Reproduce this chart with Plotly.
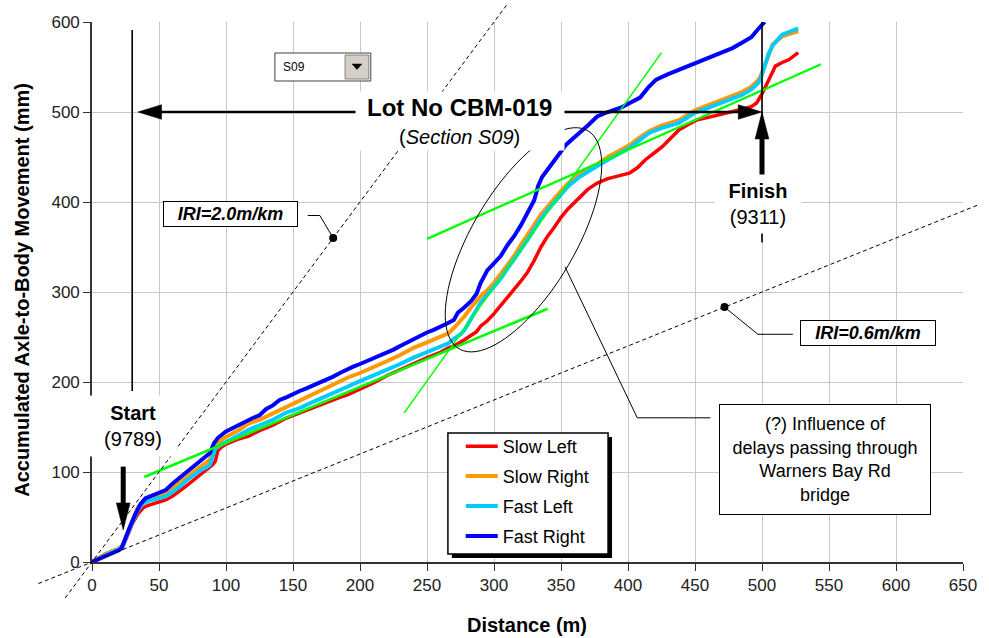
import numpy as np
import plotly.graph_objects as go

# ---------------- data ----------------
series_names = ["Slow Left", "Slow Right", "Fast Left", "Fast Right"]
series_colors = ["#ff0000", "#ff9900", "#00ccff", "#0000ff"]
series_widths = [3.5, 4, 4, 4]

slow_left = [(0,0),(5,4),(10,7),(15,10),(20,13),(23,17),(26,28),(30,42),(34,53),(38,60),(42,63),(50,67),(55,69),(60,73),(65,78),(70,84),(75,90),(80,96),(85,102),(90,108),(92,112),(94,124),(97,128),(100,131),(110,137),(117,140),(125,146),(135,152),(145,160),(155,166),(165,172),(175,178),(185,183),(191,186),(200,192),(210,199),(220,207),(230,214),(241,221),(250,227),(260,233),(266,238),(270,240),(275,244),(278,247),(283,252),(287,256),(290,262),(295,268),(300,276),(305,285),(310,293),(315,302),(320,312),(325,322),(330,335),(335,350),(340,362),(345,372),(350,383),(355,392),(364,406),(370,414),(377,421),(385,426),(393,429),(401,432),(407,438),(413,447),(420,455),(426,462),(432,471),(438,480),(445,486),(451,491),(460,494),(475,499),(485,503),(492,506),(496,510),(500,520),(505,536),(510,551),(515,555),(520,558),(527,566)]

slow_right = [(0,0),(5,5),(10,9),(15,12),(20,15),(23,19),(26,31),(30,47),(34,60),(38,67),(42,70),(50,74),(55,76),(60,82),(65,88),(70,94),(75,99),(80,105),(85,110),(88,114),(90,122),(93,131),(97,136),(100,139),(110,147),(117,154),(125,158),(135,165),(145,173),(155,180),(165,187),(175,194),(185,200),(191,205),(200,210),(210,216),(220,223),(230,230),(240,238),(250,244),(260,250),(266,254),(270,260),(275,268),(278,273),(283,283),(287,290),(290,295),(295,302),(300,310),(305,320),(310,330),(315,340),(320,352),(325,364),(330,375),(335,386),(340,395),(345,404),(350,412),(355,420),(364,432),(370,437),(377,442),(385,450),(393,456),(401,463),(408,471),(416,479),(425,485),(438,491),(450,502),(462,509),(475,517),(485,522),(492,528),(497,535),(499,540),(502,552),(505,566),(508,575),(515,584),(522,587),(527,590)]

fast_left = [(0,0),(5,4),(10,8),(15,11),(20,14),(23,18),(26,30),(30,45),(34,57),(38,65),(42,68),(50,71),(55,73),(60,78),(65,83),(70,90),(75,96),(80,101),(85,105),(88,108),(90,117),(92,126),(96,130),(100,133),(110,141),(117,147),(125,152),(135,158),(145,166),(155,171),(165,178),(175,185),(185,191),(191,195),(200,201),(210,207),(220,214),(230,220),(240,227),(250,233),(260,239),(266,243),(270,248),(275,253),(278,258),(283,270),(287,280),(290,288),(295,297),(300,306),(305,315),(310,326),(315,336),(320,347),(325,358),(330,370),(335,381),(340,391),(345,400),(350,409),(355,417),(364,428),(370,434),(377,440),(385,447),(393,453),(401,460),(408,468),(416,477),(425,482),(438,488),(450,499),(462,506),(475,514),(485,519),(492,525),(497,532),(499,537),(502,551),(505,565),(508,574),(515,586),(522,590),(527,593)]

fast_right = [(0,0),(5,3),(10,6),(15,9),(20,13),(22,15),(25,28),(28,38),(32,52),(36,64),(40,71),(45,74),(50,77),(55,80),(60,87),(65,93),(70,99),(75,104),(80,110),(85,116),(88,121),(91,132),(94,138),(100,145),(105,149),(110,153),(115,157),(120,160),(125,163),(130,170),(135,174),(140,180),(145,183),(150,187),(155,190),(160,193),(165,196),(170,199),(175,203),(180,206),(185,210),(190,214),(195,217),(200,220),(205,223),(210,226),(215,230),(220,233),(225,236),(230,240),(235,244),(240,247),(245,251),(250,255),(255,258),(260,261),(265,265),(270,269),(273,277),(278,283),(283,290),(287,298),(290,310),(295,324),(300,332),(305,340),(310,352),(315,362),(320,374),(325,388),(330,402),(333,418),(336,428),(342,440),(349,454),(354,464),(360,472),(364,477),(370,485),(377,495),(385,500),(395,505),(402,510),(409,516),(415,527),(421,536),(430,542),(438,547),(450,554),(460,560),(470,566),(478,571),(485,577),(492,583),(497,592),(502,600)]

series_points = [slow_left, slow_right, fast_left, fast_right]

# green trend segments (start / end)
trend_x = [[39, 340], [233, 425], [250, 544]]
trend_y = [[94.5, 281.4], [165.7, 566], [359, 553]]
trend_widths = [2.6, 1.5, 2.3]

# IRI reference lines (mm per m)
iri_values = [2.0, 0.6]
iri_labels = ["IRI=2.0m/km", "IRI=0.6m/km"]
iri_x_extent = [(-20, 310), (-40, 662)]
iri_marker_x = [180, 472]

x_ticks = list(range(0, 651, 50))
y_ticks = list(range(0, 601, 100))
X_RANGE = [0, 650]
Y_RANGE = [0, 600]

section_start_x = 30      # Start (9789)
section_finish_x = 500    # Finish (9311)
lot_line_y = 500

# ---------------- layout geometry ----------------
W, H = 989, 638
PL, PR, PT, PB = 92, 16, 22, 76
PW = W - PL - PR
PH = H - PT - PB
SX = PW / (X_RANGE[1] - X_RANGE[0])   # px per metre
SY = PH / (Y_RANGE[1] - Y_RANGE[0])   # px per mm


def fx(px):
    return (px - PL) / PW


def fy(py):
    return (PT + PH - py) / PH


FONT = "Arial, Liberation Sans, sans-serif"

fig = go.Figure()

for name, pts, col, w in zip(series_names, series_points, series_colors, series_widths):
    fig.add_trace(go.Scatter(
        x=[p[0] for p in pts], y=[p[1] for p in pts], mode="lines", name=name,
        legendgroup=name, line=dict(color=col, width=w)))

for tx, ty, tw in zip(trend_x, trend_y, trend_widths):
    fig.add_trace(go.Scatter(x=tx, y=ty, mode="lines", showlegend=False,
                             line=dict(color="#00ff00", width=tw), hoverinfo="skip"))

fig.add_trace(go.Scatter(
    x=iri_marker_x, y=[v * x for v, x in zip(iri_values, iri_marker_x)], mode="markers",
    showlegend=False, marker=dict(color="black", size=8), hoverinfo="skip"))

shapes = []
# IRI dashed lines (extend past the axes, so use domain refs -> not clipped)
for v, (xa, xb) in zip(iri_values, iri_x_extent):
    shapes.append(dict(type="line", xref="x domain", yref="y domain",
                       x0=(xa - X_RANGE[0]) / (X_RANGE[1] - X_RANGE[0]),
                       y0=(v * xa - Y_RANGE[0]) / (Y_RANGE[1] - Y_RANGE[0]),
                       x1=(xb - X_RANGE[0]) / (X_RANGE[1] - X_RANGE[0]),
                       y1=(v * xb - Y_RANGE[0]) / (Y_RANGE[1] - Y_RANGE[0]),
                       line=dict(color="black", width=1, dash="4px,3px"), layer="above"))


def seg(x0, y0, x1, y1, w=1.0):
    return dict(type="line", xref="x", yref="y", x0=x0, y0=y0, x1=x1, y1=y1,
                line=dict(color="black", width=w), layer="above")


def poly(pts, xref="x", yref="y", fill=None, w=1.0, close=False, lc="black"):
    d = "M " + " L ".join(f"{a},{b}" for a, b in pts) + (" Z" if close else "")
    return dict(type="path", xref=xref, yref=yref, path=d,
                fillcolor=fill if fill else "rgba(0,0,0,0)",
                line=dict(color=lc, width=w), layer="above")


# Section limits & lot arrow
shapes.append(seg(section_start_x, 190, section_start_x, 591, 1.6))
shapes.append(seg(section_finish_x, 355, section_finish_x, 600, 1.6))
head_len_h, head_half_h = 24 / SX, 7.3 / SY
left_tip = section_start_x + 4.2
shapes.append(seg(left_tip + head_len_h - 1, lot_line_y, section_finish_x - head_len_h + 1, lot_line_y, 2.6))
shapes.append(poly([(left_tip, lot_line_y), (left_tip + head_len_h, lot_line_y + head_half_h),
                    (left_tip + head_len_h, lot_line_y - head_half_h)], fill="black", w=0.5, close=True))
shapes.append(poly([(section_finish_x, lot_line_y), (section_finish_x - head_len_h, lot_line_y + head_half_h),
                    (section_finish_x - head_len_h, lot_line_y - head_half_h)], fill="black", w=0.5, close=True))

# vertical arrows (Start / Finish)
head_len_v, head_half_v = 27 / SY, 7 / SX
start_tip = (23.3, 35.6)
shapes.append(seg(start_tip[0], start_tip[1] + head_len_v - 1, start_tip[0], 106, 5))
shapes.append(poly([start_tip, (start_tip[0] - head_half_v, start_tip[1] + head_len_v),
                    (start_tip[0] + head_half_v, start_tip[1] + head_len_v)], fill="black", w=0.5, close=True))
finish_tip = (section_finish_x, lot_line_y)
shapes.append(seg(finish_tip[0], finish_tip[1] - head_len_v + 1, finish_tip[0], 430, 5))
shapes.append(poly([finish_tip, (finish_tip[0] - head_half_v, finish_tip[1] - head_len_v),
                    (finish_tip[0] + head_half_v, finish_tip[1] - head_len_v)], fill="black", w=0.5, close=True))

# ellipse around the bridge zone
ell_c = (322, 358)
ell_a, ell_b, ell_ang = 127, 52, np.deg2rad(59)
t = np.linspace(0, 2 * np.pi, 90)
ex = ell_c[0] + (ell_a * np.cos(t) * np.cos(ell_ang) - ell_b * np.sin(t) * np.sin(ell_ang)) / SX
ey = ell_c[1] + (ell_a * np.cos(t) * np.sin(ell_ang) + ell_b * np.sin(t) * np.cos(ell_ang)) / SY
shapes.append(poly(list(zip(np.round(ex, 2), np.round(ey, 2))), w=1, close=True))

# leader lines
shapes.append(poly([(353, 328), (406.9, 160.2), (461.5, 160.2)], w=1))
shapes.append(poly([(161, 385), (170, 385), (iri_marker_x[0], iri_values[0] * iri_marker_x[0])], w=1))
shapes.append(poly([(iri_marker_x[1], iri_values[1] * iri_marker_x[1]), (497, 253), (523, 253)], w=1))

# legend frame with drop shadow (legend itself is drawn on top, transparent)
shapes.append(dict(type="rect", xref="paper", yref="paper", x0=fx(456), x1=fx(618),
                   y0=fy(558), y1=fy(437), fillcolor="black", line=dict(width=0), layer="above"))
shapes.append(dict(type="rect", xref="paper", yref="paper", x0=fx(452), x1=fx(614),
                   y0=fy(554), y1=fy(433), fillcolor="white", line=dict(color="black", width=1.5),
                   layer="above"))

# section drop-down widget
shapes.append(dict(type="rect", xref="paper", yref="paper", x0=fx(277), x1=fx(374), y0=fy(81), y1=fy(53),
                   fillcolor="white", line=dict(color="#404040", width=1), layer="above"))
shapes.append(dict(type="rect", xref="paper", yref="paper", x0=fx(348), x1=fx(372), y0=fy(79), y1=fy(55),
                   fillcolor="#d4d0c8", line=dict(color="#808080", width=1), layer="above"))
shapes.append(poly([(fx(355), fy(64)), (fx(365), fy(64)), (fx(360), fy(69.5))], xref="paper", yref="paper",
                   fill="black", w=0.5, close=True))

annotations = []


def label(text, cx, cy, size, **kw):
    d = dict(text=text, xref="paper", yref="paper", x=fx(cx), y=fy(cy), xanchor="center",
             yanchor="middle", showarrow=False, font=dict(family=FONT, size=size, color="black"))
    d.update(kw)
    annotations.append(d)


# axis titles
label("<b>Accumulated Axle-to-Body Movement (mm)</b>", 21, 290, 20, textangle=-90)
label("<b>Distance (m)</b>", 532, 625, 20)

# lot title box
label(" ", 464, 121, 10, bgcolor="white", width=208, height=58, borderpad=0)
label("<b>Lot No CBM-019</b>", 464, 108, 24)
label("(<i>Section S09</i>)", 464, 137, 20)

# start / finish
label("<b>Start</b><br>(9789)", 133, 426, 20, bgcolor="white", width=86, height=60, borderpad=0)
label("<b>Finish</b><br>(9311)", 766, 204, 20, bgcolor="white", width=86, height=58, borderpad=0)

# IRI labels
label("<b><i>" + iri_labels[0] + "</i></b>", 232.5, 213.7, 18, bgcolor="white", bordercolor="black",
      borderwidth=1, borderpad=0, width=133, height=24)
label("<b><i>" + iri_labels[1] + "</i></b>", 877, 333, 18, bgcolor="white", bordercolor="black",
      borderwidth=1, borderpad=0, width=134, height=24)

# explanatory text box
label("(?) Influence of<br>delays passing through<br>Warners Bay Rd<br>bridge", 833, 459.5, 18,
      bgcolor="white", bordercolor="black", borderwidth=1, borderpad=0, width=210, height=109)

# drop-down text
annotations.append(dict(text="S09", xref="paper", yref="paper", x=fx(283), y=fy(67), xanchor="left",
                        yanchor="middle", showarrow=False, font=dict(family=FONT, size=12, color="black")))

fig.update_layout(
    width=W, height=H, autosize=False,
    margin=dict(l=PL, r=PR, t=PT, b=PB, pad=0),
    paper_bgcolor="white", plot_bgcolor="white",
    font=dict(family=FONT, color="black"),
    shapes=shapes, annotations=annotations,
    showlegend=True,
    legend=dict(x=fx(465), y=fy(428), xanchor="left", yanchor="top", bgcolor="rgba(0,0,0,0)",
                borderwidth=0, font=dict(family=FONT, size=18, color="black"),
                tracegroupgap=3.5, itemwidth=32),
    xaxis=dict(range=X_RANGE, tickvals=x_ticks, showgrid=True, gridcolor="#c8c8c8", gridwidth=1,
               showline=True, linecolor="#333333", linewidth=1.6, ticks="outside", ticklen=7,
               tickcolor="#333333", tickfont=dict(size=17, color="#222222"), zeroline=False),
    yaxis=dict(range=Y_RANGE, tickvals=y_ticks, showgrid=True, gridcolor="#c8c8c8", gridwidth=1,
               showline=True, linecolor="#333333", linewidth=1.6, ticks="outside", ticklen=7,
               tickcolor="#333333", tickfont=dict(size=17, color="#222222"), zeroline=False),
)

fig.write_html("out.html", config={"displayModeBar": False})
